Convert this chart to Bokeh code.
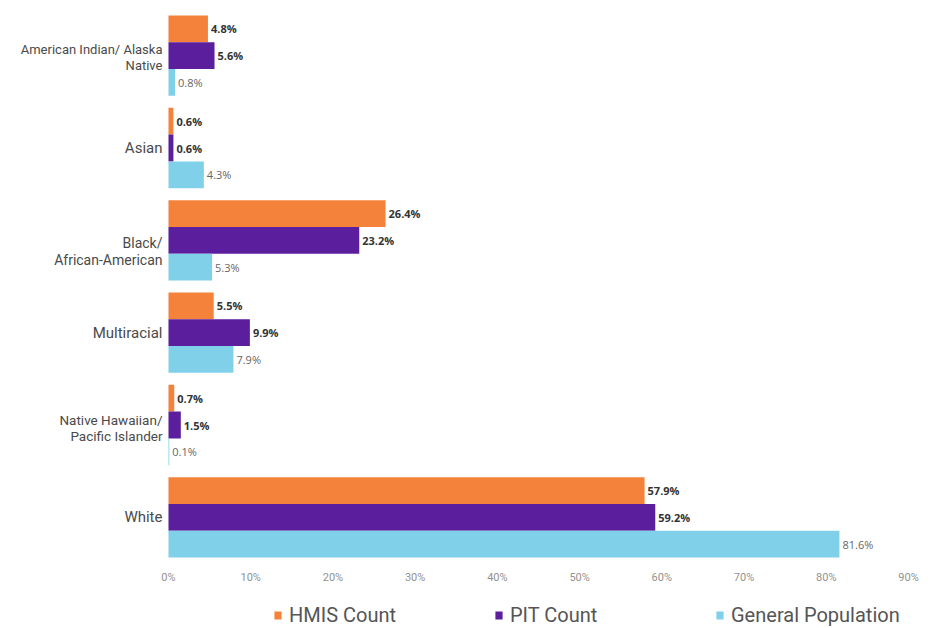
from bokeh.plotting import figure
from bokeh.layouts import column
from bokeh.models import Range1d, FixedTicker, Legend, LegendItem, ColumnDataSource
from bokeh.core.properties import value
from bokeh.embed import file_html
from bokeh.resources import INLINE

categories = ["American Indian/ Alaska\nNative", "Asian", "Black/\nAfrican-American",
              "Multiracial", "Native Hawaiian/\nPacific Islander", "White"]
hmis = [4.8, 0.6, 26.4, 5.5, 0.7, 57.9]
pit = [5.6, 0.6, 23.2, 9.9, 1.5, 59.2]
genpop = [0.8, 4.3, 5.3, 7.9, 0.1, 81.6]
series_names = ["HMIS Count", "PIT Count", "General Population"]
tick_values = [0, 10, 20, 30, 40, 50, 60, 70, 80, 90]
tick_labels = ["0%", "10%", "20%", "30%", "40%", "50%", "60%", "70%", "80%", "90%"]

# styles
colors = ["#F5823A", "#5B1F9E", "#7FD0E8"]
cat_font_sizes = ["13px", "15px", "14px", "15px", "13.5px", "15px"]
cat_y_shift = [1.5, 0, 11, 0, 3, 0]

# frame spans the label area too so the category texts are not clipped
p = figure(width=944, height=600, output_backend="svg", toolbar_location=None,
           x_range=Range1d(-20.43, 90), y_range=Range1d(5.5, -0.5),
           min_border_left=0, min_border_right=36, min_border_top=9, min_border_bottom=37)
p.outline_line_color = None
p.xgrid.grid_line_color = None
p.ygrid.grid_line_color = None
p.yaxis.visible = False
p.background_fill_color = "white"
p.border_fill_color = "white"

xa = p.xaxis[0]
xa.ticker = FixedTicker(ticks=tick_values)
xa.major_label_overrides = {v: l for v, l in zip(tick_values, tick_labels)}
xa.axis_line_color = None
xa.major_tick_line_color = None
xa.minor_tick_line_color = None
xa.major_tick_in = 0
xa.major_tick_out = 0
xa.major_label_standoff = 7
xa.major_label_text_font = "Roboto"
xa.major_label_text_font_size = "11px"
xa.major_label_text_color = "#929292"

bh = 0.29
offsets = [-bh, 0, bh]
series = [hmis, pit, genpop]
for k, (vals, col) in enumerate(zip(series, colors)):
    ys = [i + offsets[k] for i in range(len(categories))]
    src = ColumnDataSource(dict(y=ys, right=vals,
                                lab=[f"{v:.1f}%" for v in vals]))
    p.hbar(y="y", left=0, right="right", height=bh, source=src,
           fill_color=col, line_color=None)
    p.text(x="right", y="y", text="lab", source=src, x_offset=3,
           text_baseline="middle", text_align="left",
           text_font=value("Open Sans"), text_font_size="11px",
           text_font_style="bold" if k < 2 else "normal",
           text_color="#333333" if k < 2 else "#666666")

cat_src = ColumnDataSource(dict(x=[0] * len(categories), y=list(range(len(categories))),
                                t=categories, fs=cat_font_sizes, dy=cat_y_shift))
p.text(x="x", y="y", text="t", source=cat_src, x_offset=-6, y_offset="dy",
       text_align="right", text_baseline="middle",
       text_font=value("Roboto"), text_font_size="fs",
       text_color="#4a4a4a", text_line_height=1.05)

# legend strip
lg = figure(width=944, height=28, output_backend="svg", toolbar_location=None,
            x_range=Range1d(0, 1), y_range=Range1d(0, 1),
            x_axis_location=None, y_axis_location=None,
            min_border_left=0, min_border_right=0, min_border_top=0, min_border_bottom=0)
lg.outline_line_color = None
lg.xgrid.grid_line_color = None
lg.ygrid.grid_line_color = None
lg.border_fill_color = "white"
items = []
for n, col, vals in zip(series_names, colors, series):
    # data placed outside the strip's visible range; only the legend swatch shows
    r = lg.hbar(y="y", left=0, right="right", height=0.5,
                source=ColumnDataSource(dict(y=[-10], right=[vals[0]])),
                fill_color=col, line_color=None)
    items.append(LegendItem(label=n, renderers=[r]))
legend = Legend(items=items, orientation="horizontal", location=(273, 1),
                glyph_width=9, glyph_height=10, label_standoff=7,
                label_width=205, spacing=0, padding=0, margin=0,
                label_text_font="Roboto", label_text_font_size="20px",
                label_text_color="#555555", border_line_color=None,
                background_fill_alpha=0)
lg.add_layout(legend, "center")

layout = column(p, lg, spacing=0)
open("out.html", "w").write(file_html(layout, INLINE))
